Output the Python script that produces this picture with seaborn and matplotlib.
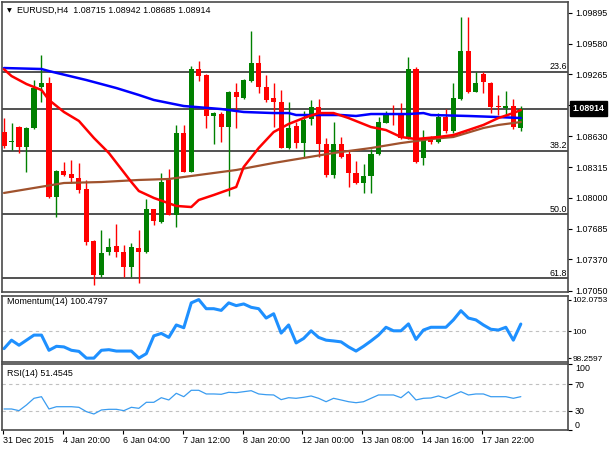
import numpy as np
import matplotlib
matplotlib.use('Agg')
import matplotlib.pyplot as plt
import matplotlib.transforms as mtransforms
import seaborn as sns

# ========== data ==========
symbol = 'EURUSD,H4'

opens = [1.08674, 1.08567, 1.08728, 1.08524, 1.08712, 1.09131, 1.09172, 1.08012, 1.08275, 1.08244,
         1.08200, 1.08088, 1.07561, 1.07210, 1.07443, 1.07507, 1.07449, 1.07295, 1.07490, 1.07443,
         1.07883, 1.07756, 1.08183, 1.07825, 1.08661, 1.08268, 1.09316, 1.09257, 1.08838, 1.08858,
         1.08722, 1.09087, 1.09019, 1.09199, 1.09377, 1.09138, 1.09019, 1.08984, 1.08513, 1.08735,
         1.08558, 1.08804, 1.08927, 1.08551, 1.08234, 1.08551, 1.08449, 1.08251, 1.08155, 1.08227,
         1.08449, 1.08769, 1.08858, 1.08865, 1.08610, 1.09316, 1.08405, 1.08610, 1.08575, 1.08824,
         1.08687, 1.09009, 1.09506, 1.09087, 1.09268, 1.09179, 1.08940, 1.08917, 1.08940, 1.08715]
highs = [1.08817, 1.08766, 1.08735, 1.08725, 1.09206, 1.09462, 1.09240, 1.08285, 1.08370, 1.08387,
         1.08360, 1.08183, 1.07565, 1.07671, 1.07586, 1.07732, 1.07517, 1.07538, 1.07671, 1.07985,
         1.07890, 1.08257, 1.08292, 1.08746, 1.08746, 1.09350, 1.09404, 1.09268, 1.08878, 1.08882,
         1.09095, 1.09172, 1.09216, 1.09711, 1.09462, 1.09257, 1.09172, 1.09104, 1.08984, 1.08779,
         1.08892, 1.09002, 1.09009, 1.08610, 1.08779, 1.08626, 1.08483, 1.08380, 1.08347, 1.08497,
         1.08831, 1.08892, 1.08950, 1.08968, 1.09439, 1.09342, 1.08694, 1.08633, 1.08865, 1.08906,
         1.09179, 1.09854, 1.09848, 1.09291, 1.09291, 1.09186, 1.09053, 1.09097, 1.09009, 1.08942]
lows = [1.08510, 1.08490, 1.08459, 1.08268, 1.08705, 1.08984, 1.08000, 1.07807, 1.08225, 1.08149,
        1.08047, 1.07517, 1.07108, 1.07193, 1.07415, 1.07398, 1.07193, 1.07193, 1.07129, 1.07433,
        1.07722, 1.07746, 1.07820, 1.07705, 1.08262, 1.08262, 1.09199, 1.08712, 1.08551, 1.08575,
        1.08019, 1.08712, 1.09012, 1.09190, 1.09070, 1.08984, 1.08722, 1.08510, 1.08497, 1.08507,
        1.08421, 1.08746, 1.08421, 1.08210, 1.08200, 1.08408, 1.08108, 1.08142, 1.08053, 1.08047,
        1.08439, 1.08766, 1.08746, 1.08599, 1.08605, 1.08354, 1.08336, 1.08551, 1.08565, 1.08667,
        1.08661, 1.09005, 1.09070, 1.09083, 1.09070, 1.08872, 1.08848, 1.08848, 1.08705, 1.08685]
closes = [1.08531, 1.08577, 1.08524, 1.08718, 1.09121, 1.09179, 1.08012, 1.08278, 1.08234, 1.08200,
          1.08080, 1.07551, 1.07210, 1.07433, 1.07500, 1.07449, 1.07295, 1.07494, 1.07449, 1.07883,
          1.07766, 1.08165, 1.07825, 1.08667, 1.08268, 1.09316, 1.09247, 1.08838, 1.08872, 1.08722,
          1.09087, 1.09029, 1.09206, 1.09383, 1.09138, 1.09002, 1.08984, 1.08513, 1.08718, 1.08558,
          1.08797, 1.08927, 1.08551, 1.08234, 1.08551, 1.08421, 1.08251, 1.08155, 1.08227, 1.08449,
          1.08779, 1.08848, 1.08848, 1.08610, 1.09316, 1.08370, 1.08599, 1.08575, 1.08831, 1.08687,
          1.09019, 1.09506, 1.09087, 1.09179, 1.09189, 1.08933, 1.08927, 1.08940, 1.08728, 1.08914]

# moving averages (read at some candles only)
fast_ma_idx = [0, 1, 3, 5, 6, 8, 10, 12, 14, 17, 18, 20, 23, 25, 26, 28, 31, 32, 34, 36, 38, 40,
               42, 44, 46, 49, 51, 53, 55, 58, 60, 62, 64, 66, 68, 69]
fast_ma = [1.09316, 1.09247, 1.09165, 1.09104, 1.09002, 1.08879, 1.08787, 1.08613, 1.08459,
           1.08162, 1.08070, 1.07999, 1.07917, 1.07906, 1.07978, 1.08029, 1.08111, 1.08316,
           1.08510, 1.08674, 1.08756, 1.08817, 1.08868, 1.08868, 1.08817, 1.08725, 1.08694,
           1.08623, 1.08602, 1.08623, 1.08643, 1.08694, 1.08746, 1.08817, 1.08868, 1.08899]
slow_ma_idx = [0, 5, 6, 11, 15, 18, 20, 24, 29, 32, 36, 38, 39, 45, 47, 49, 54, 56, 57, 62, 66, 69]
slow_ma = [1.09329, 1.09319, 1.09298, 1.09206, 1.09124, 1.09053, 1.09002, 1.08940, 1.08909,
           1.08879, 1.08868, 1.08868, 1.08848, 1.08848, 1.08838, 1.08858, 1.08858, 1.08868,
           1.08848, 1.08838, 1.08827, 1.08817]
long_ma_idx = [0, 4, 8, 13, 18, 22, 26, 31, 36, 40, 44, 49, 53, 57, 60, 64, 66, 69]
long_ma = [1.08050, 1.08101, 1.08152, 1.08162, 1.08183, 1.08193, 1.08234, 1.08285, 1.08357,
           1.08408, 1.08459, 1.08510, 1.08561, 1.08602, 1.08623, 1.08715, 1.08746, 1.08776]

# fibonacci retracement
fib_high = 1.10598
fib_low = 1.05061
fib_levels = [23.6, 38.2, 50.0, 61.8]

momentum = [98.88, 99.43, 99.10, 99.43, 99.76, 99.76, 98.77, 99.03, 98.99, 98.77,
            98.70, 98.2597, 98.26, 98.77, 98.81, 98.72, 98.72, 98.72, 98.26, 98.55,
            99.71, 99.87, 99.61, 100.42, 100.24, 101.86, 102.0753, 101.48, 101.48, 101.37,
            101.86, 101.68, 101.79, 101.57, 101.48, 100.87, 101.15, 99.89, 100.42, 99.25,
            99.54, 100.04, 99.61, 99.43, 99.38, 99.32, 98.99, 98.72, 99.03, 99.38,
            99.76, 100.27, 100.04, 100.04, 100.49, 99.48, 100.09, 100.27, 100.27, 100.27,
            100.75, 101.35, 100.87, 100.75, 100.42, 100.14, 100.09, 100.27, 99.43, 100.4797]
rsi = [33.0, 33.0, 30.5, 39.0, 49.0, 51.4, 33.0, 36.4, 36.4, 36.4,
       35.5, 29.0, 25.5, 31.5, 32.5, 32.5, 30.5, 35.5, 34.0, 43.0,
       43.0, 49.9, 46.5, 56.5, 51.4, 61.0, 61.0, 55.5, 55.5, 55.0,
       58.0, 57.4, 58.9, 60.4, 55.5, 54.4, 54.0, 47.0, 49.9, 49.0,
       50.5, 52.5, 49.0, 43.9, 49.0, 46.5, 43.9, 42.4, 43.9, 49.0,
       54.0, 54.0, 54.0, 49.9, 58.9, 46.5, 49.0, 49.5, 52.5, 49.0,
       54.0, 58.9, 54.0, 55.5, 55.5, 51.4, 51.4, 51.4, 49.0, 51.4545]

price_ticks = [1.09895, 1.09580, 1.09265, 1.08950, 1.08630, 1.08315, 1.08000, 1.07685, 1.07370, 1.07050]
date_tick_idx = [0, 8, 16, 24, 32, 40, 48, 56, 64]
date_labels = ['31 Dec 2015', '4 Jan 20:00', '6 Jan 04:00', '7 Jan 12:00', '8 Jan 20:00',
               '12 Jan 00:00', '13 Jan 08:00', '14 Jan 16:00', '17 Jan 22:00']

# ========== style ==========
sns.set_style('white')
plt.rcParams['font.family'] = ['Liberation Sans', 'DejaVu Sans']
FS = 6.4
EDGE = '#4a4a4a'

W, H = 610, 450
fig = plt.figure(figsize=(W / 100, H / 100), dpi=100)


def px_axes(left, top, right, bottom):
    return fig.add_axes([left / W, 1 - bottom / H, (right - left) / W, (bottom - top) / H])


ax = px_axes(2, 2, 568, 292)
ax_m = px_axes(2, 295.5, 568, 361.5)
ax_r = px_axes(2, 364, 568, 430)

o = np.array(opens); h = np.array(highs); l = np.array(lows); c = np.array(closes)
idx = np.arange(len(o))
cols = np.where(c >= o, '#008000', '#ff0000')

# ========== main price panel ==========
ax.vlines(idx, l, h, colors=cols, lw=1, zorder=2)
body_h = np.maximum(np.abs(c - o), 0.00004)
ax.bar(idx, body_h, bottom=np.minimum(o, c), width=0.68, color=cols, linewidth=0, zorder=3)

sns.lineplot(x=long_ma_idx, y=long_ma, ax=ax, color='#a0522d', lw=1.6, zorder=4)
sns.lineplot(x=slow_ma_idx, y=slow_ma, ax=ax, color='#0000ff', lw=1.8, zorder=4)
sns.lineplot(x=fast_ma_idx, y=fast_ma, ax=ax, color='#ff0000', lw=1.8, zorder=5)

trans = mtransforms.blended_transform_factory(ax.transAxes, ax.transData)
for lvl in fib_levels:
    p = fib_high - lvl / 100 * (fib_high - fib_low)
    ax.axhline(p, color='#333333', lw=1.2, zorder=1)
    ax.text(0.998, p + 0.00006, f'{lvl:.1f}', transform=trans, ha='right', va='bottom',
            fontsize=FS, color='black')

last = c[-1]
ax.axhline(last, color='#333333', lw=1.2, zorder=1)

ax.set_xlim(-0.27, 75.3)
ax.set_ylim(1.07036, 1.10005)
ax.yaxis.tick_right()
ax.set_yticks(price_ticks)
ax.set_yticklabels([f'{t:.5f}' for t in price_ticks])
ax.set_xticks([])
ax.tick_params(axis='y', length=3, width=0.8, labelsize=FS, pad=2, colors='black', right=True)
ax.set_xlabel('')
ax.set_ylabel('')
ax.annotate(f'{last:.5f}', xy=(1.0, last), xycoords=trans, xytext=(3, 0),
            textcoords='offset points', ha='left', va='center', color='white', fontsize=FS,
            fontweight='bold', annotation_clip=False, zorder=10,
            bbox=dict(boxstyle='square,pad=0.3', fc='black', ec='black'))

fig.text(9.5 / W, 1 - 10.5 / H, '\u25bc', fontsize=4.5, ha='center', va='center',
         family='DejaVu Sans', color='black')
fig.text(17 / W, 1 - 10.3 / H,
         f'{symbol}  {o[-1]:.5f} {h[-1]:.5f} {l[-1]:.5f} {c[-1]:.5f}',
         fontsize=FS, ha='left', va='center', color='black')

# ========== momentum panel ==========
sns.lineplot(x=idx, y=momentum, ax=ax_m, color='#1e90ff', lw=2.2)
ax_m.axhline(100, color='#c0c0c0', lw=0.8, ls=(0, (3, 3)), zorder=0)
m_max, m_min = max(momentum), min(momentum)
ax_m.set_xlim(-0.27, 75.3)
ax_m.set_ylim(98.04, 102.34)
ax_m.yaxis.tick_right()
ax_m.set_yticks([m_max, 100, m_min])
ax_m.set_yticklabels([f'{m_max:.4f}', '100', f'{m_min:.4f}'])
ax_m.set_xticks([])
ax_m.tick_params(axis='y', length=2, width=0.8, labelsize=6.0, pad=1, colors='black', right=True)
ax_m.set_xlabel('')
ax_m.set_ylabel('')
fig.text(7 / W, 1 - 302 / H, f'Momentum(14) {momentum[-1]:.4f}', fontsize=FS,
         ha='left', va='center', color='black')

# ========== RSI panel ==========
sns.lineplot(x=idx, y=rsi, ax=ax_r, color='#3a9cf0', lw=0.9)
for lv in (70, 30):
    ax_r.axhline(lv, color='#c0c0c0', lw=0.8, ls=(0, (3, 3)), zorder=0)
ax_r.set_xlim(-0.27, 75.3)
ax_r.set_ylim(1.5, 100.4)
ax_r.yaxis.tick_right()
ax_r.set_yticks([100, 70, 30, 1.5])
ax_r.set_yticklabels(['100', '70', '30', '0'])
ax_r.tick_params(axis='y', length=3, width=0.8, labelsize=FS, pad=2, colors='black', right=True)
rl = ax_r.get_yticklabels()
rl[0].set_va('top')
rl[3].set_va('bottom')
ax_r.set_xticks([i - 0.15 for i in date_tick_idx])
ax_r.set_xticklabels(date_labels)
for lab in ax_r.get_xticklabels():
    lab.set_ha('left')
ax_r.tick_params(axis='x', length=3, width=0.8, labelsize=FS, pad=1.5, colors='black', bottom=True)
ax_r.set_xlabel('')
ax_r.set_ylabel('')
fig.text(7 / W, 1 - 373 / H, f'RSI(14) {rsi[-1]:.4f}', fontsize=FS,
         ha='left', va='center', color='black')

for a in (ax, ax_m, ax_r):
    for s in a.spines.values():
        s.set_visible(True)
        s.set_color(EDGE)
        s.set_linewidth(1.2)

fig.savefig('out.png', dpi=100)
